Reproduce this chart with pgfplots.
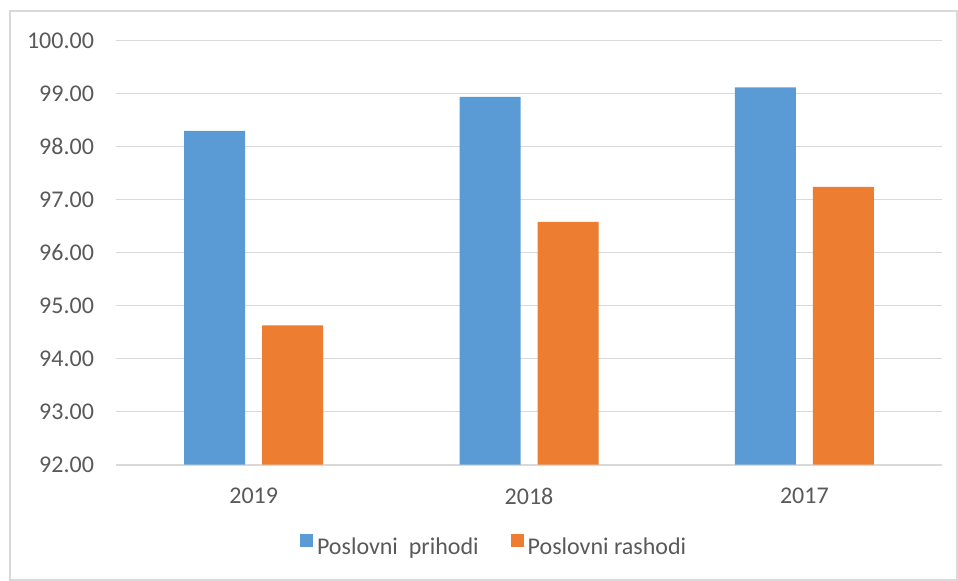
\documentclass[border=0pt]{standalone}
\usepackage{pgfplots}
\pgfplotsset{compat=1.18}
\usepackage{fontspec}
\setmainfont{Carlito}
\definecolor{barblue}{HTML}{5B9BD5}
\definecolor{barorange}{HTML}{ED7D31}
\definecolor{txtgray}{HTML}{595959}
\definecolor{gridgray}{HTML}{D9D9D9}

\begin{document}
\begin{tikzpicture}
\path[use as bounding box] (0,0) rectangle (479bp,290.5bp);
\draw[gridgray, line width=0.8bp] (5bp,0.5bp) rectangle (478.5bp,285bp);
\begin{axis}[
  at={(58bp,58.15bp)}, anchor=south west,
  scale only axis, width=413bp, height=212bp,
  ymin=92, ymax=100, ytick={92,93,...,100},
  xmin=-0.5, xmax=2.5,
  xtick=data, xticklabels={2019,2018,2017},
  ybar=8.5bp, bar width=30.5bp,
  axis line style={draw=none},
  major tick length=0pt,
  ymajorgrids, major grid style={gridgray, line width=0.8bp},
  tick label style={font=\fontsize{12bp}{14bp}\selectfont, text=txtgray},
  yticklabel style={xshift=-7.5bp,
    /pgf/number format/.cd, fixed, fixed zerofill, precision=2, assume math mode=true},
  xticklabel style={yshift=-8bp},
  legend style={draw=none, fill=none, at={(0.459,-0.196)}, anchor=center,
    font=\fontsize{12bp}{14bp}\selectfont, text=txtgray,
    /tikz/every even column/.append style={column sep=14bp}},
  legend columns=2,
  legend image code/.code={\fill[#1] (0bp,0.2bp) rectangle (6.5bp,6.7bp);},
  legend cell align=left,
]
\draw[gridgray, line width=0.8bp] (axis cs:-0.5,92) -- (axis cs:2.5,92);
\addplot[fill=barblue, draw=none] coordinates {(0,98.30) (1,98.94) (2,99.12)};
\addplot[fill=barorange, draw=none] coordinates {(0,94.63) (1,96.58) (2,97.24)};
\legend{Poslovni\ \ prihodi, Poslovni rashodi}
\end{axis}
\end{tikzpicture}
\end{document}
